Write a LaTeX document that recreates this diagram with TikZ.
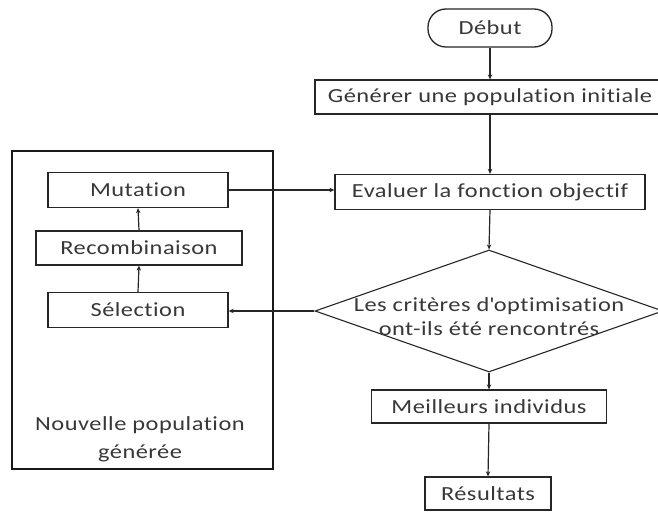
\documentclass[tikz,border=0pt]{standalone}
\usepackage{fontspec}
\setmainfont{Carlito}[FakeStretch=1.22, LetterSpace=2.5, Ligatures={NoCommon}]
\usetikzlibrary{shapes.geometric,arrows.meta}
\begin{document}
\begin{tikzpicture}[x=1pt,y=-1pt,
  txt/.style={font=\fontsize{20}{24}\selectfont, text=black!78},
  box/.style={txt, draw=black!85, line width=1.3pt, fill=white, inner sep=0pt},
  arr/.style={draw=black!85, line width=1.2pt, -{Stealth[length=5pt,width=4.5pt]}}]
\clip (0,0) rectangle (658,513);
\fill[white] (0,0) rectangle (658,513);
% right column
\node[box, rounded corners=18pt, minimum width=124pt, minimum height=38pt] (debut) at (490,28) {Début};
\node[box, minimum width=350pt, minimum height=34pt] (gen) at (490,97) {Générer une population initiale};
\node[box, minimum width=310pt, minimum height=35pt] (eval) at (490,192) {Evaluer la fonction objectif};
\node[diamond, draw=black!85, line width=1.1pt, inner sep=0pt, minimum width=348pt, minimum height=122pt] (dec) at (489,311) {};
\node[txt, align=center, font=\fontsize{20}{24}\selectfont] (dectext) at (489,317) {Les critères d\textquotesingle optimisation\\ont-ils été rencontrés};
\node[box, minimum width=235pt, minimum height=33pt] (best) at (489,406.5) {Meilleurs individus};
\node[box, minimum width=126pt, minimum height=33pt] (res) at (488,493.5) {Résultats};
% left container
\node[draw=black!90, line width=2pt, fill=white, minimum width=261pt, minimum height=318pt, inner sep=0pt] (cont) at (142.5,310) {};
\node[box, minimum width=180pt, minimum height=35pt] (mut) at (138,190) {Mutation};
\node[box, minimum width=206pt, minimum height=34pt] (rec) at (139,248) {Recombinaison};
\node[box, minimum width=180pt, minimum height=35pt] (sel) at (138,310) {Sélection};
\node[txt, align=center, font=\fontsize{20}{28}\selectfont] (conttext) at (140,439) {Nouvelle population\\générée};
% connectors
\draw[arr] (debut.south) -- (gen.north);
\draw[arr] (gen.south) -- (eval.north);
\draw[arr] (eval.south) -- (dec.north);
\draw[arr] (dec.south) -- (best.north);
\draw[arr] (best.south) -- (res.north);
\draw[arr] (mut.east) -- (mut.east -| eval.west);
\draw[arr] (dec.west) -- (dec.west -| sel.east);
\draw[arr] (sel.north) -- (rec.south);
\draw[arr] (rec.north) -- (mut.south);
\end{tikzpicture}
\end{document}
